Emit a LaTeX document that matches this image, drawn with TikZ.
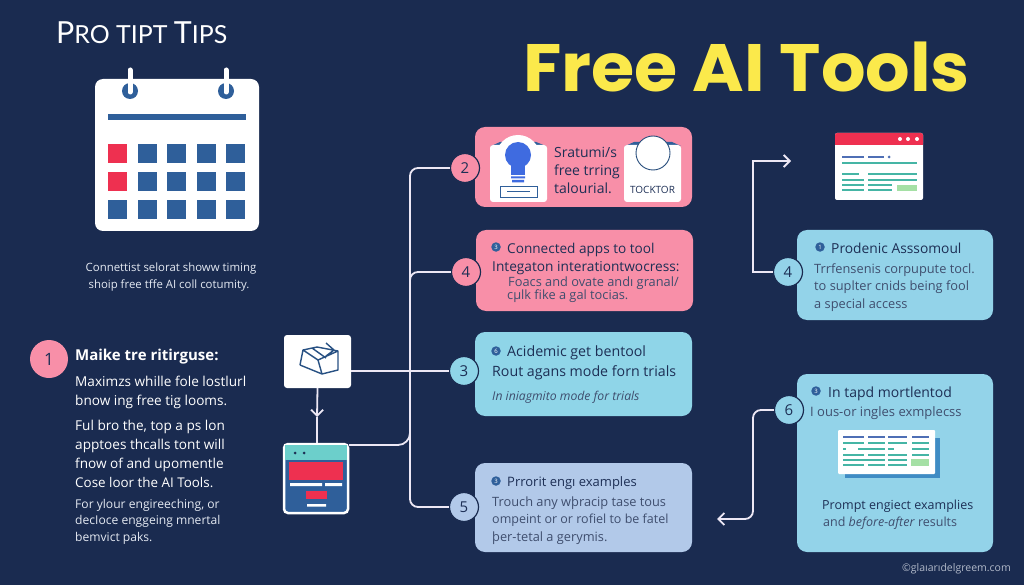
\documentclass[tikz,border=0pt]{standalone}
\usepackage{fontspec}
\setmainfont{Open Sans}
\newfontfamily\titlefont{Poppins}
\newfontfamily\thinfont{Lato}
\usetikzlibrary{arrows.meta}
\definecolor{navy}{HTML}{1A2B50}
\definecolor{ink}{HTML}{1D2F55}
\definecolor{pinkc}{HTML}{F88FA8}
\definecolor{cyanc}{HTML}{8FD5E8}
\definecolor{cyanr}{HTML}{93D3E9}
\definecolor{bluec}{HTML}{B2C9E9}
\definecolor{midblue}{HTML}{2F5F9A}
\definecolor{redc}{HTML}{EE3050}
\definecolor{tealc}{HTML}{45B5A5}
\definecolor{tealt}{HTML}{6CCFCB}
\definecolor{greenc}{HTML}{A5E0A5}
\definecolor{barblue}{HTML}{4F6FB5}
\definecolor{bulbblue}{HTML}{3F6BE0}
\definecolor{wire}{HTML}{EDE8F5}
\definecolor{pale}{HTML}{E4E9F2}
\definecolor{titley}{HTML}{FBE94B}
\tikzset{
  x=1pt,y=-1pt,
  card/.style={rounded corners=10pt},
  num/.style={circle,draw=navy,line width=1.2pt,minimum size=29pt,inner sep=0pt,text=ink,font=\fontsize{15}{15}\selectfont},
  bul/.style={circle,fill=midblue,minimum size=9.5pt,inner sep=0pt,text=white,font=\fontsize{6}{6}\selectfont},
  link/.style={draw=wire,line width=1.8pt},
  tip/.style={-{Straight Barb[length=6pt,width=12pt]}},
  line/.style={inner sep=0pt,anchor=base west},
  head/.style={line,text=ink,font=\fontsize{13.6}{14}\selectfont\bfseries},
  sub/.style={line,text=ink,font=\fontsize{13}{14}\selectfont},
  body/.style={line,text=ink!85!white,font=\fontsize{12.8}{14}\selectfont},
  lw/.style={line,text=white,font=\fontsize{13.6}{14}\selectfont},
  ls/.style={line,text=pale,font=\fontsize{12.1}{14}\selectfont},
}
\newcommand{\rrow}[4]{\fill[#4] (#1,#3-1) rectangle (#2,#3+1);}
\begin{document}
\begin{tikzpicture}
\useasboundingbox (0,0) rectangle (1024,585);
\fill[navy] (0,0) rectangle (1024,585);

% titles
\node[line,text=white,font=\fontsize{30.4}{30}\selectfont\thinfont] (protitle) at (56,44) {P\fontsize{24.9}{24}\selectfont RO TIPT \fontsize{30.4}{30}\selectfont T\fontsize{24.9}{24}\selectfont IPS};
\node[line,text=titley,font=\fontsize{67}{67}\selectfont\titlefont\bfseries,xscale=1.045,transform shape] (maintitle) at (523,92) {Free AI Tools};

% calendar
\fill[white,rounded corners=8pt] (95,79) rectangle (259,231);
\foreach \x in {130,226}{
  \fill[midblue] (\x,91) circle (8);
  \draw[white,line width=5pt,line cap=round] (\x,70) -- (\x,92);
}
\fill[midblue] (108,114) rectangle (246,120);
\foreach \y in {144,172,200}{
  \foreach \x in {108,137.5,167,197,226}{
    \fill[midblue] (\x,\y) rectangle (\x+19,\y+19);
  }
}
\fill[redc] (108,144) rectangle (127,163);
\fill[redc] (108,172) rectangle (127,191);
\node[ls,anchor=base,font=\fontsize{11.4}{14}\selectfont] (cap1) at (171,271) {Connettist selorat showw timing};
\node[ls,anchor=base,font=\fontsize{11.4}{14}\selectfont] (cap2) at (169,288) {shoip free tffe AI coll cotumity.};

% step 1
\node[num,fill=pinkc,draw=none,minimum size=38pt,font=\fontsize{17}{17}\selectfont] (n1) at (49,359) {1};
\node[line,text=white,font=\fontsize{15}{15}\selectfont\bfseries] (h1) at (75,360) {Maike tre ritirguse:};
\node[lw] (l1) at (75,386) {Maximzs whille fole lostlurl};
\node[lw] (l2) at (75,405) {bnow ing free tig looms.};
\node[lw] (l3) at (75,430) {Ful bro the, top a ps lon};
\node[lw] (l4) at (75,449) {apptoes thcalls tont will};
\node[lw] (l5) at (75,468) {fnow of and upomentle};
\node[lw,font=\fontsize{13.4}{14}\selectfont] (l6) at (75,487) {Cose loor the AI Tools.};
\node[ls] (l7) at (75,508) {For ylour engireeching, or};
\node[ls] (l8) at (75,524) {decIoce enggeing mnertal};
\node[ls] (l9) at (75,541) {bemvict paks.};

% box icon
\node[fill=white,rounded corners=3pt,minimum width=67pt,minimum height=53pt,inner sep=0pt] (boxicon) at (317.5,361.5) {};
\draw[midblue!85!black,line width=1.4pt,line join=round]
  (300,365) -- (303,350) -- (317,347) -- (338,351) -- (338,370) -- (322,374) -- (300,365)
  (303,350) -- (318,360) -- (322,374)
  (318,360) -- (338,351)
  (312,348) -- (326,358)
  (326,343) -- (334,350) -- (326,356);

% window icon
\node[fill=midblue,draw=white,line width=2.5pt,rounded corners=4pt,minimum width=64pt,minimum height=69pt,inner sep=0pt] (winicon) at (316,478.5) {};
\fill[tealt] (285,445) rectangle (347,460);
\fill[ink] (295,453) circle (1.5) (304,453) circle (1.5);
\fill[redc] (289,462) rectangle (343,480);
\fill[white] (290,483) rectangle (322,486) (325,483) rectangle (342,486) (307,504) rectangle (326,506.5);
\fill[redc] (306,491) rectangle (327,499);

% cards
\fill[pinkc,card] (475,127) rectangle (692,207);
\fill[pinkc,card] (476,230) rectangle (693,311);
\fill[cyanc,card] (475,332) rectangle (692,416);
\fill[bluec,card] (475,463) rectangle (692,552);
\fill[cyanr,card] (797,230) rectangle (993,320);
\fill[cyanr,card] (797,374) rectangle (993,552);

% card 2 content
\fill[midblue] (491,146) -- (500,142) -- (536,142) -- (546,146) -- cycle;
\fill[white,rounded corners=3pt] (490,145) rectangle (547,202);
\fill[white] (518,157) circle (22);
\fill[white] (490,150) rectangle (547,170);
\fill[bulbblue] (518,155) circle (13);
\fill[bulbblue] (511,162) -- (525,162) -- (525,175) -- (511,175) -- cycle;
\fill[bulbblue] (511,176.5) rectangle (525,178.5) (512,180) rectangle (524,182.5);
\draw[midblue,line width=.8pt] (500,186) rectangle (537,197);
\draw[midblue,line width=.8pt] (507,191) -- (530,191);
\node[sub,font=\fontsize{14}{14}\selectfont] (t1) at (554,158) {Sratumi/s};
\node[sub,font=\fontsize{14}{14}\selectfont] (t2) at (554,176) {free trring};
\node[sub,font=\fontsize{14}{14}\selectfont] (t3) at (554,194) {talourial.};
\fill[midblue] (625,146) -- (634,142) -- (672,142) -- (681,146) -- cycle;
\fill[white,rounded corners=3pt] (624,145) rectangle (681,202);
\draw[fill=white,draw=midblue!80!black,line width=.9pt] (653,153) circle (17);
\node[line,anchor=base,text=ink,font=\fontsize{10}{10}\selectfont] (tock) at (652.5,194) {TOCKTOR};

% card 4 content
\node[bul] (b2) at (496,247) {3};
\node[head,font=\fontsize{13.6}{14}\selectfont] (t4) at (507,253) {Connected apps to tool};
\node[sub,font=\fontsize{13.7}{14}\selectfont] (t5) at (492,271) {Integaton interationtwocress:};
\node[body] (t6) at (508,286) {Foacs and ovate andı granal/};
\node[body] (t7) at (507,299) {cµlk fike a gal tocias.};

% card 3 content
\node[bul] (b3) at (496,351) {6};
\node[head,font=\fontsize{14.2}{14}\selectfont] (t8) at (507,356) {Acidemic get bentool};
\node[sub,font=\fontsize{14.2}{14}\selectfont] (t9) at (492,376) {Rout agans mode forn trials};
\node[body,font=\fontsize{12.2}{14}\selectfont\itshape] (t10) at (492,400) {In iniagmito mode for trials};

% card 5 content
\node[bul] (b5) at (496,481) {3};
\node[head,font=\fontsize{13}{14}\selectfont] (t11) at (507,486) {Prrorit engı examples};
\node[body] (t12) at (492,506) {Trouch any wþracip tase tous};
\node[body,font=\fontsize{12.5}{14}\selectfont] (t13) at (492,523) {ompeint or or rofiel to be fatel};
\node[body] (t14) at (492,541) {þer-tetal a gerymis.};

% right window
\fill[white,rounded corners=2pt] (835,133) rectangle (923,200);
\fill[redc,rounded corners=2pt] (835,133) rectangle (923,145);
\fill[redc] (835,140) rectangle (923,145);
\fill[white] (900,139) circle (2) (908,139) circle (2) (917,139) circle (2);
\rrow{842}{864}{157}{barblue}
\rrow{868}{884}{157}{barblue}
\fill[barblue] (889,157) circle (1.5);
\rrow{842}{917}{163}{tealc}
\rrow{842}{859}{174}{tealc}
\rrow{868}{917}{174}{tealc}
\rrow{842}{864}{180}{tealc}
\rrow{868}{917}{180}{tealc}
\rrow{842}{864}{185}{tealc}
\rrow{868}{892}{185}{tealc}
\rrow{842}{864}{190}{tealc}
\rrow{868}{892}{190}{tealc}
\fill[greenc] (897,185) rectangle (917,191);

% right card top
\node[bul] (b7) at (820,247) {1};
\node[head,font=\fontsize{13.8}{14}\selectfont] (t15) at (831,253) {Prodenic Asssomoul};
\node[body] (t16) at (814,273) {Trrfensenis corpupute tocl.};
\node[body] (t17) at (814,290) {to suplter cnids being fool};
\node[body] (t18) at (814,308) {a special access};

% right card bottom
\node[bul] (b8) at (816,391) {3};
\node[head,font=\fontsize{14}{14}\selectfont] (t19) at (828,397) {In tapd mortlentod};
\node[body,font=\fontsize{13}{14}\selectfont] (t20) at (810,416) {I ous-or ingles exmplecss};
\fill[barblue!80!cyan] (845,438) rectangle (940,478);
\fill[white,rounded corners=1pt] (838,430) rectangle (935,474);
\foreach \a/\b in {843/864,868/885,888/907,912/929}{
  \rrow{\a}{\b}{437}{barblue}
  \rrow{\a}{\b}{443}{tealc}
  \rrow{\a}{\b}{455}{tealc}
  \rrow{\a}{\b}{465}{tealc}
}
\foreach \a/\b in {843/846,858/885,888/894,912/929}{\rrow{\a}{\b}{449}{tealc}}
\foreach \a/\b in {843/885,888/907}{\rrow{\a}{\b}{460}{tealc}}
\fill[greenc] (911,459) rectangle (929,466);
\node[sub,font=\fontsize{12.5}{14}\selectfont] (t21) at (822,509) {Prompt engiect examplies};
\node[body,font=\fontsize{12.5}{14}\selectfont] (t22) at (823,526) {and \textit{before-after} results};
\node[line,anchor=base east,text=pale!75!navy,font=\fontsize{10.5}{11}\selectfont] (credit) at (1011,571) {©glaıarıdelgreem.com};

% numbered circles
\node[num,fill=pinkc] (n2) at (465,168) {2};
\node[num,fill=pinkc] (n4) at (466,272) {4};
\node[num,fill=cyanc] (n3) at (464,371) {3};
\node[num,fill=bluec] (n5) at (464,507) {5};
\node[num,fill=cyanr] (n4r) at (788,272) {4};
\node[num,fill=cyanr] (n6) at (789,410) {6};

% connectors
\coordinate (trunk) at (410,340);
\coordinate (trunkb) at (410,320);
\coordinate (trunkc) at (410,425);
\coordinate (boxmid) at (317,417);
\coordinate (winout) at (349,445);
\coordinate (topend) at (791,161);
\coordinate (turnt) at (753,200);
\coordinate (turnb) at (753,460);
\coordinate (botend) at (717,519);
\draw[link,rounded corners=8pt] (n2.west) -| (trunk) |- (n5.west);
\draw[link,rounded corners=8pt] (n4.west) -| (trunkb);
\draw[link] (boxicon.east |- n3.west) -- (n3.west);
\draw[link,rounded corners=12pt] (winout) -| (trunkc);
\draw[link,tip] (boxicon.south) -- (boxmid);
\draw[link] (boxmid) -- (winicon.north -| boxmid);
\draw[link,tip] (n4r.west) -| (turnt) |- (topend);
\draw[link,tip,rounded corners=8pt] (n6.west) -| (turnb) |- (botend);
\end{tikzpicture}
\end{document}
